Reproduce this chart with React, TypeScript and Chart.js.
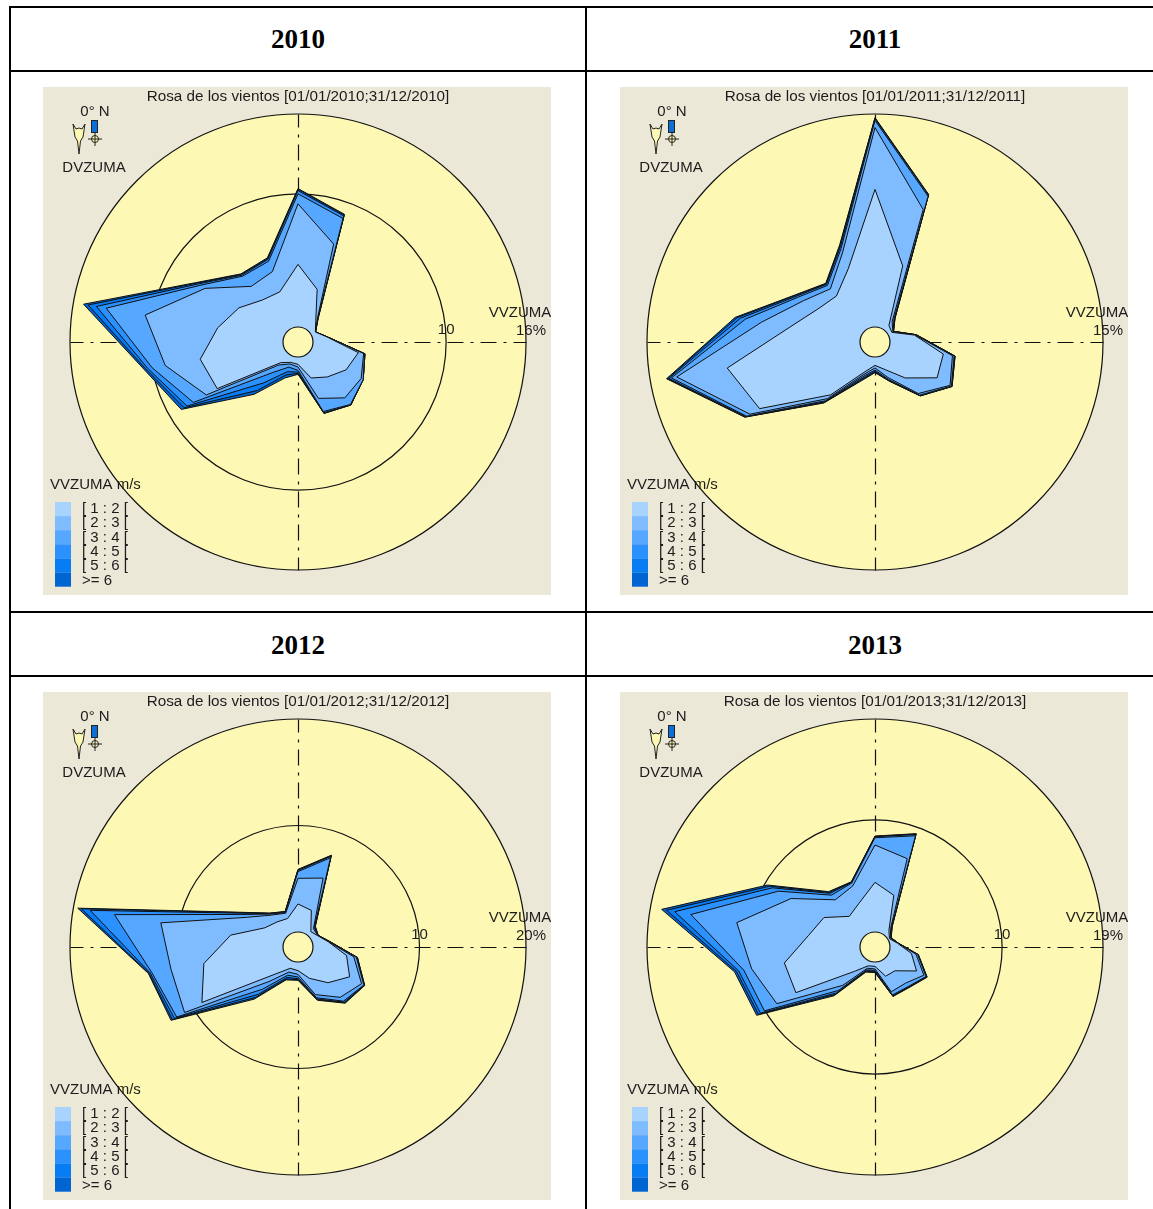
import React, { useEffect, useRef } from 'react';
import { Chart, registerables } from 'chart.js';

Chart.register(...registerables);

const directions = ['0', '20', '40', '60', '80', '100', '120', '140', '160', '180', '200', '220', '240', '260', '280', '300', '320', '340'];
const speedClasses = ['[ 1 : 2 [', '[ 2 : 3 [', '[ 3 : 4 [', '[ 4 : 5 [', '[ 5 : 6 [', '>= 6'];
const classColors = ['#a8d3ff', '#7fbcff', '#55a7ff', '#2b91ff', '#067cf5', '#0064d2'];
const years = ['2010', '2011', '2012', '2013'];
const scaleMax = [16, 15, 20, 19];
const holeValue = [-1.127, -1.056, -1.408, -1.338];
const ringValues = [[10, 16], [15], [10, 20], [10, 19]];

const y2010c1 = [4.7, 3.08, 0.95, 0.38, 1.08, 3.48, 3.05, 2.3, 1.75, 0.55, 0.5, 0.9, 5.88, 6.33, 5, 4, 3, 2.88];
const y2010c2 = [9.25, 6.7, 1.13, 0.38, 1.1, 3.88, 4.35, 4.35, 3.38, 0.75, 0.63, 1.13, 6.83, 9, 10.53, 6.93, 4.33, 4.5];
const y2010c3 = [10, 8.75, 1.18, 0.38, 1.1, 3.95, 4.53, 5, 4.43, 1, 0.88, 1.88, 7.95, 10, 13.5, 7.38, 5.33, 5.33];
const y2010c4 = [10.25, 8.95, 1.2, 0.4, 1.1, 3.98, 4.53, 5.05, 4.53, 1.13, 1.25, 2.88, 8.5, 10.33, 14.25, 7.58, 5.43, 5.48];
const y2010c5 = [10.35, 9.03, 1.23, 0.4, 1.1, 3.98, 4.53, 5.05, 4.58, 1.23, 1.5, 3.63, 8.75, 10.5, 14.88, 7.7, 5.5, 5.55];
const y2010c6 = [10.4, 9.08, 1.25, 0.4, 1.1, 3.98, 4.53, 5.05, 4.58, 1.3, 1.75, 4, 9, 10.63, 15.23, 7.78, 5.55, 5.6];

const y2011c1 = [9.69, 4.65, 0.47, 0.31, 1.76, 3.83, 3.99, 2.25, 1.01, 0.59, 1.22, 3.8, 8.33, 9.51, 5.02, 3.59, 3.17, 4.44];
const y2011c2 = [14.04, 8.87, 0.82, 0.4, 1.81, 4.48, 5.05, 3.68, 1.6, 0.77, 1.41, 4.15, 9.11, 13.12, 7.04, 4.76, 3.83, 5.63];
const y2011c3 = [14.55, 9.86, 1.01, 0.42, 1.85, 4.6, 5.16, 3.83, 1.76, 0.92, 1.57, 4.34, 9.39, 13.5, 8.21, 5.23, 4.15, 5.94];
const y2011c4 = [14.67, 9.95, 1.1, 0.45, 1.88, 4.65, 5.19, 3.87, 1.83, 1.01, 1.71, 4.44, 9.46, 13.68, 8.57, 5.37, 4.25, 6.08];
const y2011c5 = [14.72, 9.97, 1.13, 0.45, 1.9, 4.67, 5.21, 3.9, 1.85, 1.06, 1.81, 4.51, 9.51, 13.78, 8.8, 5.47, 4.3, 6.17];
const y2011c6 = [14.74, 10, 1.15, 0.45, 1.9, 4.67, 5.21, 3.9, 1.88, 1.1, 1.88, 4.55, 9.53, 13.85, 8.94, 5.52, 4.34, 6.22];

const y2012c1 = [2.63, 2.25, 0.47, 0.72, 1.47, 3.22, 4.19, 2.97, 1.72, 0.81, 0.72, 1.91, 9.01, 7.57, 5.01, 2.19, 1.66, 1.44];
const y2012c2 = [5.04, 5.48, 0.85, 0.73, 1.5, 3.91, 5.48, 4.76, 3.35, 1.16, 1.1, 2.82, 10.89, 10.7, 11.67, 4.16, 2.5, 1.97];
const y2012c3 = [5.67, 7.51, 0.97, 0.75, 1.56, 4.16, 5.73, 5.23, 3.66, 1.41, 1.41, 3.76, 11.74, 12.52, 16.09, 4.7, 2.63, 2.03];
const y2012c4 = [5.79, 7.67, 1.06, 0.78, 1.6, 4.23, 5.79, 5.35, 3.79, 1.57, 1.63, 4.38, 11.99, 12.68, 18.4, 4.95, 2.69, 2.1];
const y2012c5 = [5.85, 7.73, 1.1, 0.78, 1.6, 4.26, 5.82, 5.41, 3.85, 1.66, 1.78, 4.76, 12.21, 12.8, 19.25, 5.07, 2.72, 2.13];
const y2012c6 = [5.88, 7.76, 1.13, 0.78, 1.6, 4.26, 5.82, 5.48, 3.91, 1.72, 1.88, 4.98, 12.36, 12.86, 19.59, 5.13, 2.75, 2.13];

const y2013c1 = [4.43, 3.57, 0.59, 0.15, 0.68, 1.96, 2.94, 1.43, 1.43, 0.39, 0.45, 1.49, 6.81, 6.87, 4.67, 3.92, 2.23, 2.82];
const y2013c2 = [7.76, 7.05, 0.83, 0.24, 0.71, 2.38, 3.69, 2.88, 2.91, 0.62, 0.68, 3.12, 8.77, 9.84, 11.18, 7.31, 4.16, 4.46];
const y2013c3 = [8.41, 9.22, 0.95, 0.3, 0.73, 2.53, 3.92, 3.27, 3.21, 0.74, 0.83, 3.72, 10.05, 10.55, 15.34, 8.62, 4.7, 4.73];
const y2013c4 = [8.5, 9.34, 1.01, 0.3, 0.74, 2.56, 3.98, 3.33, 3.3, 0.83, 0.92, 4.01, 10.46, 11, 16.8, 9.22, 4.91, 4.79];
const y2013c5 = [8.53, 9.39, 1.04, 0.33, 0.74, 2.59, 4.01, 3.36, 3.33, 0.89, 0.98, 4.19, 10.67, 11.21, 17.54, 9.51, 5.02, 4.82];
const y2013c6 = [8.56, 9.42, 1.04, 0.33, 0.74, 2.59, 4.04, 3.39, 3.36, 0.95, 1.04, 4.34, 10.85, 11.39, 17.99, 9.72, 5.11, 4.85];

const roseData = [
  [y2010c1, y2010c2, y2010c3, y2010c4, y2010c5, y2010c6],
  [y2011c1, y2011c2, y2011c3, y2011c4, y2011c5, y2011c6],
  [y2012c1, y2012c2, y2012c3, y2012c4, y2012c5, y2012c6],
  [y2013c1, y2013c2, y2013c3, y2013c4, y2013c5, y2013c6],
];

const INK = '#1c1c1c';
const FONT = '"Liberation Sans", Arial, sans-serif';

function outerRadius(s: any) {
  return s.getDistanceFromCenterForValue(s.max);
}

const decorPlugin = {
  id: 'decor',
  beforeDatasetsDraw(chart: any) {
    const { ctx } = chart;
    const s = chart.scales.r;
    const R = outerRadius(s);
    ctx.save();
    ctx.strokeStyle = '#111';
    ctx.lineWidth = 1.2;
    ctx.setLineDash([16, 7, 3, 7]);
    ctx.lineDashOffset = -17;
    [[1, 0], [-1, 0], [0, 1], [0, -1]].forEach(([dx, dy]) => {
      ctx.beginPath();
      ctx.moveTo(s.xCenter + 0.5, s.yCenter + 0.5);
      ctx.lineTo(s.xCenter + 0.5 + dx * R, s.yCenter + 0.5 + dy * R);
      ctx.stroke();
    });
    ctx.restore();
  },
  afterDatasetsDraw(chart: any, _a: any, opts: any) {
    const { ctx } = chart;
    const s = chart.scales.r;
    ctx.save();
    ctx.beginPath();
    ctx.arc(s.xCenter, s.yCenter, s.getDistanceFromCenterForValue(0), 0, Math.PI * 2);
    ctx.fillStyle = '#fdf8b4';
    ctx.fill();
    ctx.strokeStyle = '#111';
    ctx.lineWidth = 1.2;
    ctx.stroke();

    ctx.fillStyle = INK;
    ctx.font = '15px ' + FONT;
    ctx.textBaseline = 'middle';
    ctx.textAlign = 'center';

    // compass
    ctx.fillText('0° N', 52, 25);
    ctx.fillText('DVZUMA', 51, 81);
    ctx.strokeStyle = '#222';
    ctx.lineWidth = 1;
    ctx.fillStyle = '#fdf8b4';
    ctx.beginPath();
    ctx.moveTo(30, 37); ctx.lineTo(33, 42); ctx.lineTo(36, 41); ctx.lineTo(39, 42); ctx.lineTo(42, 37);
    ctx.lineTo(40, 50); ctx.lineTo(37.5, 54); ctx.lineTo(36, 67); ctx.lineTo(34.5, 54); ctx.lineTo(32, 50);
    ctx.closePath();
    ctx.fill(); ctx.stroke();
    ctx.fillStyle = '#0a6fd8';
    ctx.fillRect(49, 33, 6, 13);
    ctx.strokeRect(48.5, 33.5, 6, 12);
    ctx.beginPath();
    ctx.arc(52, 52, 3.5, 0, Math.PI * 2);
    ctx.fillStyle = '#fdf8b4'; ctx.fill(); ctx.stroke();
    ctx.beginPath();
    ctx.moveTo(45, 52); ctx.lineTo(59, 52); ctx.moveTo(52, 46); ctx.lineTo(52, 59);
    ctx.stroke();

    // axis labels
    ctx.fillStyle = INK;
    const cy = s.yCenter;
    const axisX = s.xCenter + outerRadius(s);
    ctx.fillText('VVZUMA', axisX - 6, cy - 29);
    ctx.fillText(opts.maxLabel, axisX + 5, cy - 11);
    if (opts.midLabel) {
      ctx.fillText(opts.midLabel, s.xCenter + s.getDistanceFromCenterForValue(Number(opts.midLabel)), cy - 12);
    }

    // legend
    ctx.textAlign = 'left';
    ctx.fillText('VVZUMA m/s', 7, 398);
    speedClasses.forEach((label, i) => {
      ctx.fillStyle = classColors[i];
      ctx.fillRect(12, 415 + i * 14.1, 16, 14.2);
      ctx.fillStyle = INK;
      ctx.fillText(label, 39, 422 + i * 14.3);
    });
    ctx.restore();
  },
};

function Rose({ index }: { index: number }) {
  const ref = useRef<HTMLCanvasElement>(null);
  useEffect(() => {
    const year = years[index];
    const max = scaleMax[index];
    const rings = ringValues[index];
    const chart = new Chart(ref.current as HTMLCanvasElement, {
      type: 'radar',
      data: {
        labels: directions,
        datasets: roseData[index].map((values, i) => ({
          label: speedClasses[i],
          data: values,
          fill: true,
          backgroundColor: classColors[i],
          borderColor: '#101010',
          borderWidth: 1,
          pointRadius: 0,
          tension: 0,
        })),
      },
      options: {
        responsive: false,
        animation: false,
        layout: { padding: { left: 27, right: 25, top: 0, bottom: 24 } },
        scales: {
          r: {
            min: holeValue[index],
            max,
            backgroundColor: '#fdf8b4',
            afterBuildTicks: (axis: any) => {
              axis.ticks = rings.map((value) => ({ value }));
            },
            ticks: { display: false },
            grid: { circular: true, color: '#111', lineWidth: 1.2 },
            angleLines: { display: false },
            pointLabels: { display: false },
          },
        },
        plugins: {
          legend: { display: false },
          tooltip: { enabled: false },
          title: {
            display: true,
            text: `Rosa de los vientos [01/01/${year};31/12/${year}]`,
            color: INK,
            font: { family: FONT, size: 15.25, weight: 'normal', lineHeight: 1.18 },
            padding: { top: 1, bottom: 9 },
          },
          decor: { maxLabel: `${max}%`, midLabel: rings.length > 1 ? String(rings[0]) : '' },
        },
      } as any,
      plugins: [decorPlugin],
    });
    return () => chart.destroy();
  }, [index]);
  const left = index % 2 === 0 ? 43 : 620;
  const top = index < 2 ? 87 : 692;
  return (
    <canvas
      ref={ref}
      width={508}
      height={508}
      style={{ position: 'absolute', left, top, width: 508, height: 508, background: '#ebe8d8', display: 'block' }}
    />
  );
}

const line = (left: number, top: number, width: number, height: number) => (
  <div style={{ position: 'absolute', left, top, width, height, background: '#000' }} />
);

export default function App() {
  return (
    <div style={{ position: 'fixed', left: 0, top: 0, width: 1153, height: 1209, overflow: 'hidden', background: '#fff' }}>
      {line(9, 6, 1144, 2)}
      {line(9, 70, 1144, 2)}
      {line(9, 611, 1144, 2)}
      {line(9, 675, 1144, 2)}
      {line(9, 6, 2, 1203)}
      {line(585, 6, 2, 1203)}
      {years.map((y, i) => (
        <div
          key={y}
          style={{
            position: 'absolute',
            left: i % 2 === 0 ? 10 : 587,
            width: 576,
            top: i < 2 ? 8 : 614,
            height: 62,
            lineHeight: '62px',
            textAlign: 'center',
            fontFamily: '"Liberation Serif", serif',
            fontWeight: 'bold',
            fontSize: 27,
            color: '#000',
          }}
        >
          {y}
        </div>
      ))}
      {years.map((y, i) => (
        <Rose key={y} index={i} />
      ))}
    </div>
  );
}
